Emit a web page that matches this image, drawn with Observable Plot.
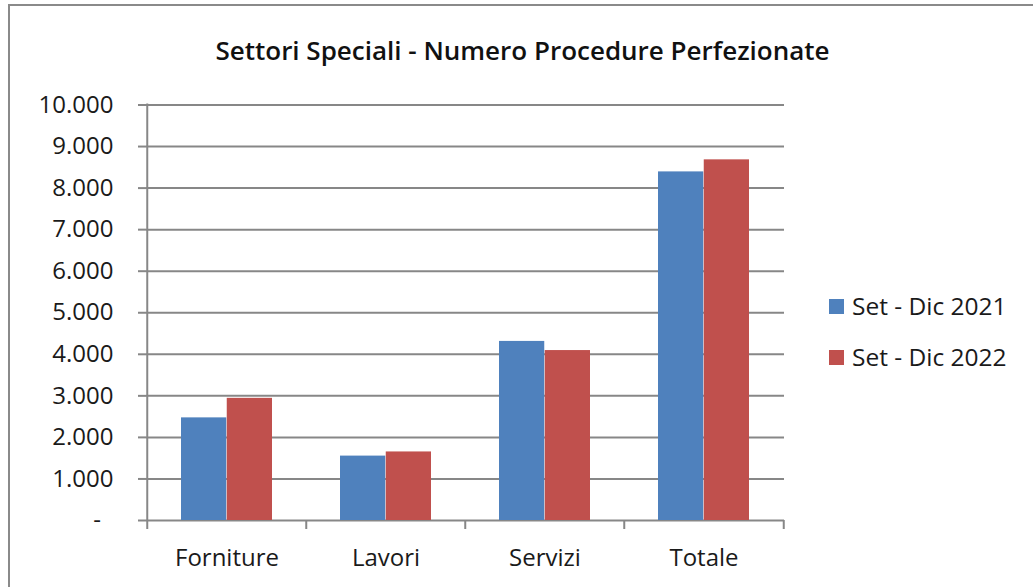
<!DOCTYPE html>
<html>
<head>
<meta charset="utf-8">
<script src="https://cdn.jsdelivr.net/npm/d3@7"></script>
<script src="https://cdn.jsdelivr.net/npm/@observablehq/plot@0.6"></script>
<style>
  html, body { margin: 0; padding: 0; background: #fff; }
  #page { position: relative; width: 1033px; height: 587px; overflow: hidden; background: #fff;
          font-family: "Open Sans", sans-serif; color: #1a1a1a; }
  .frameTop { position: absolute; left: 8px; top: 4px; width: 1025px; height: 2px; background: #8a8a8a; }
  .frameLeft { position: absolute; left: 8px; top: 4px; width: 2px; height: 583px; background: #8a8a8a; }
  #title { position: absolute; left: 0; width: 1045px; top: 37px; text-align: center; font-size: 26px; line-height: 26px; font-weight: 600; color: #111; }
  #chart { position: absolute; left: 0; top: 66px; }
  #chart svg { overflow: visible; }
  .leg { position: absolute; left: 829px; font-size: 24.5px; line-height: 24px; white-space: nowrap; }
  .leg .sw { position: absolute; left: 0; width: 15px; height: 15px; }
  .leg .lab { position: absolute; left: 23px; top: 0; }
</style>
</head>
<body>
<div id="page">
  <div class="frameTop"></div>
  <div class="frameLeft"></div>
  <div id="title"></div>
  <div id="chart"></div>
  <div id="legend"></div>
</div>
<script>
const titleText = "Settori Speciali - Numero Procedure Perfezionate";
const categories = ["Forniture", "Lavori", "Servizi", "Totale"];
const seriesNames = ["Set - Dic 2021", "Set - Dic 2022"];
const values2021 = [2470, 1550, 4310, 8390];
const values2022 = [2940, 1650, 4090, 8680];
const yTicks = [0, 1000, 2000, 3000, 4000, 5000, 6000, 7000, 8000, 9000, 10000];
const colors = ["#4F81BD", "#C0504D"];

const data2021 = categories.map((c, i) => ({category: c, value: values2021[i]}));
const data2022 = categories.map((c, i) => ({category: c, value: values2022[i]}));

const W = 1033, H = 521;
const mL = 146, mR = 249, mT = 38.5, mB = 67;
const bw = (W - mL - mR) / categories.length;
const gridColor = "#878787";

const itFormat = d3.formatLocale({decimal: ",", thousands: ".", grouping: [3], currency: ["", "€"]}).format(",");
const fmt = d => d === 0 ? "-\u00a0\u00a0" : itFormat(d);

document.getElementById("title").textContent = titleText;

const chart = Plot.plot({
  width: W,
  height: H,
  marginLeft: mL,
  marginRight: mR,
  marginTop: mT,
  marginBottom: mB,
  style: {fontFamily: "Open Sans, sans-serif", fontSize: "24px", color: "#1a1a1a", background: "transparent"},
  x: {type: "band", domain: categories, padding: 0, axis: null, label: null},
  y: {domain: [0, 10000], axis: null, label: null},
  marks: [
    Plot.gridY(yTicks, {stroke: gridColor, strokeOpacity: 1, strokeWidth: 2}),
    Plot.barY(data2021, {x: "category", y: "value", fill: colors[0], insetLeft: 34, insetRight: bw - 79.75}),
    Plot.barY(data2022, {x: "category", y: "value", fill: colors[1], insetLeft: 79.75, insetRight: bw - 125.5}),
    Plot.ruleX([categories[0]], {x: d => d, dx: -bw / 2, insetTop: -1, insetBottom: -9, stroke: gridColor, strokeWidth: 2}),
    Plot.ruleX(categories.slice(1), {x: d => d, y1: 0, y2: 0, dx: -bw / 2, insetBottom: -9, stroke: gridColor, strokeWidth: 2}),
    Plot.ruleX([categories[categories.length - 1]], {x: d => d, y1: 0, y2: 0, dx: bw / 2, insetBottom: -9, stroke: gridColor, strokeWidth: 2}),
    Plot.axisY({ticks: yTicks, tickFormat: fmt, tickSize: 8, tickPadding: 25, stroke: gridColor, strokeWidth: 2, strokeOpacity: 1, fill: "#1a1a1a", fontSize: 24, label: null}),
    Plot.axisX({tickSize: 0, tickPadding: 28, fill: "#1a1a1a", fontSize: 24, label: null})
  ]
});
document.getElementById("chart").appendChild(chart);

const legendTops = [294, 345];
const legend = document.getElementById("legend");
seriesNames.forEach((name, i) => {
  const item = document.createElement("div");
  item.className = "leg";
  item.style.top = legendTops[i] + "px";
  const sw = document.createElement("div");
  sw.className = "sw";
  sw.style.background = colors[i];
  sw.style.top = "5px";
  const lab = document.createElement("div");
  lab.className = "lab";
  lab.textContent = name;
  item.appendChild(sw);
  item.appendChild(lab);
  legend.appendChild(item);
});
</script>
</body>
</html>
